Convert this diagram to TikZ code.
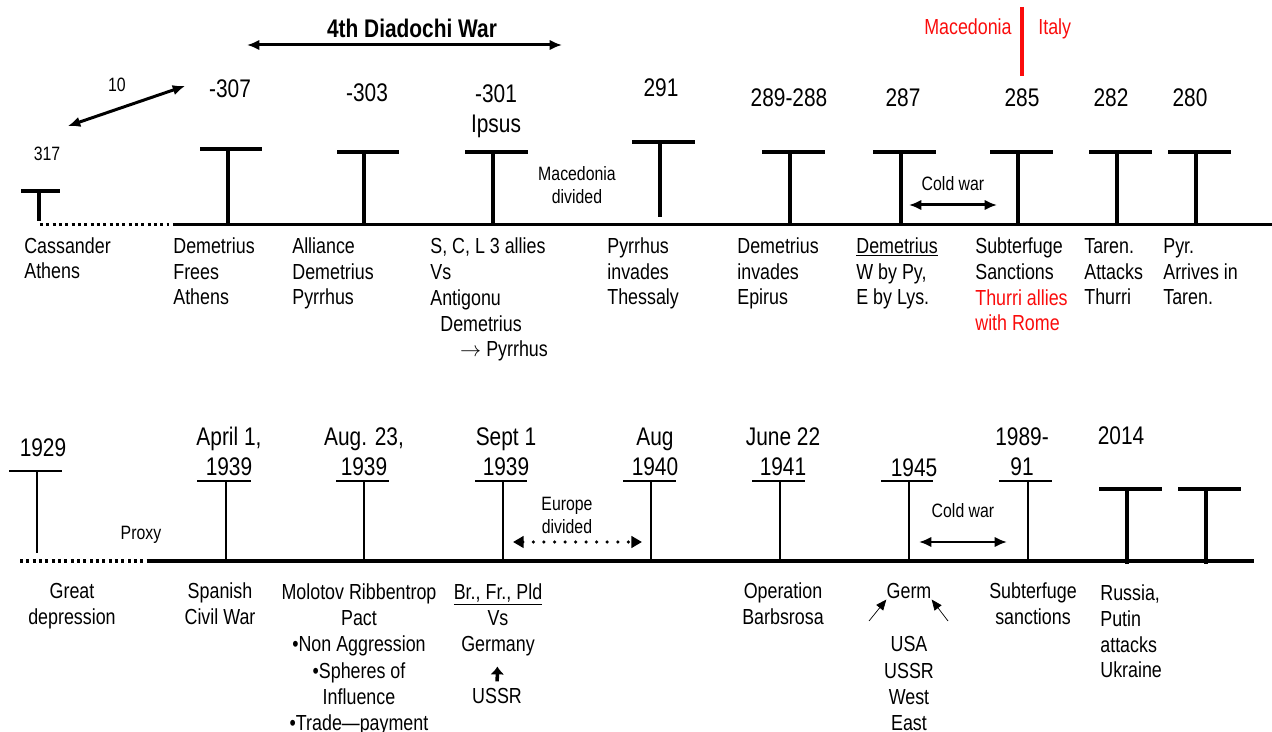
\documentclass[tikz,border=0pt]{standalone}
\usepackage{fontspec}
\setmainfont{Liberation Sans}[FakeStretch=0.82]
\usepackage{xcolor}
\usetikzlibrary{arrows.meta}
\definecolor{mapred}{RGB}{250,12,12}

\tikzset{
  timeline/.style={line width=2.2pt},
  dotline/.style={line width=2.2pt, dash pattern=on 1.7pt off 1.9pt},
  markT/.style={line width=2.2pt},
  markthin/.style={line width=0.85pt},
  yearlbl/.style={font=\fontsize{14.5}{17.6}\selectfont, inner sep=0pt, align=center, anchor=base},
  eventlbl/.style={font=\fontsize{12.4}{14.75}\selectfont, inner sep=0pt, align=left, anchor=base west},
  ceventlbl/.style={font=\fontsize{12.4}{15}\selectfont, inner sep=0pt, align=center, anchor=base},
  notelbl/.style={font=\fontsize{11}{13.5}\selectfont, inner sep=0pt, align=center, anchor=base},
  spanarrow/.style={{Latex[length=7pt,width=6pt]}-{Latex[length=7pt,width=6pt]}, line width=1.7pt},
  dotspan/.style={{Triangle[length=6pt,width=6.5pt]}-{Triangle[length=6pt,width=6.5pt]}, line width=2pt, line cap=round, dash pattern=on 0pt off 6pt},
  pointer/.style={-{Triangle[length=6pt,width=5pt]}, line width=0.4pt},
  uparr/.style={-{Latex[length=4.5pt,width=8pt]}, line width=2pt, shorten <=4pt, shorten >=5.5pt},
}

\begin{document}
\begin{tikzpicture}[x=0.02cm, y=-0.02cm]
  \useasboundingbox (0,0) rectangle (1272,732);

  % Ancient timeline (multi-line labels sit on their last baseline)
  \draw[dotline] (40,224.5) -- (173,224.5);
  \draw[timeline] (173,224.5) -- (1272,224.5);

  % Markers
  \draw[markT] (21,191) -- (60,191) (39,191) -- (39,221);
  \draw[markT] (200,149) -- (262,149) (228,149) -- (228,224.5);
  \draw[markT] (337,152) -- (399,152) (364,152) -- (364,224.5);
  \draw[markT] (465,152) -- (528,152) (493,152) -- (493,224.5);
  \draw[markT] (632,142) -- (695,142) (660,142) -- (660,217);
  \draw[markT] (762,152) -- (825,152) (790,152) -- (790,224.5);
  \draw[markT] (873,152) -- (936,152) (901,152) -- (901,224.5);
  \draw[markT] (990,152) -- (1053,152) (1018,152) -- (1018,224.5);
  \draw[markT] (1089,152) -- (1152,152) (1117,152) -- (1117,224.5);
  \draw[markT] (1168,152) -- (1231,152) (1196,152) -- (1196,224.5);

  % Years
  \node[notelbl] (y317) at (47,161) {317};
  \node[yearlbl] (y307) at (230,98) {-307};
  \node[yearlbl] (y303) at (367,102) {-303};
  \node[yearlbl] (y301) at (496,133) {-301\\Ipsus};
  \node[yearlbl] (y291) at (661,97) {291};
  \node[yearlbl] (y289) at (789,107) {289-288};
  \node[yearlbl] (y287) at (903,107) {287};
  \node[yearlbl] (y285) at (1022,107) {285};
  \node[yearlbl] (y282) at (1111,107) {282};
  \node[yearlbl] (y280) at (1190,107) {280};

  % Spans
  \node[yearlbl, font=\bfseries\fontsize{14.5}{17}\selectfont] (war4) at (412,38) {4th Diadochi War};
  \coordinate (war4L) at (247,45);
  \coordinate (war4R) at (562,45);
  \draw[spanarrow] (war4L) -- (war4R);

  \node[notelbl] (gap10) at (117,92) {10};
  \coordinate (gapL) at (68,126);
  \coordinate (gapR) at (185,86);
  \draw[spanarrow] (gapL) -- (gapR);

  \node[notelbl] (macdiv) at (577,204) {Macedonia\\divided};
  \node[notelbl] (cold1) at (953,191) {Cold war};
  \coordinate (cold1L) at (909,205);
  \coordinate (cold1R) at (997,205);
  \draw[spanarrow] (cold1L) -- (cold1R);

  % Macedonia | Italy
  \draw[line width=2.2pt, mapred] (1022,7) -- (1022,76);
  \node[eventlbl, anchor=base east, text=mapred] (macedonia) at (1012,35) {Macedonia};
  \node[eventlbl, text=mapred] (italy) at (1038,35) {Italy};

  % Events
  \node[eventlbl] (cassander) at (24,279) {Cassander\\Athens};
  \node[eventlbl] (frees) at (173,305) {Demetrius\\Frees\\Athens};
  \node[eventlbl] (alliance) at (292,305) {Alliance\\Demetrius\\Pyrrhus};
  \node[eventlbl] (ipsus) at (430,357) {S, C, L 3 allies\\Vs\\Antigonu\\\hspace*{5.7pt}Demetrius\\\hspace*{17pt}$\rightarrow$\ Pyrrhus};
  \node[eventlbl] (thessaly) at (607,305) {Pyrrhus\\invades\\Thessaly};
  \node[eventlbl] (epirus) at (737,305) {Demetrius\\invades\\Epirus};
  \node[eventlbl] (split) at (856,305) {\underline{Demetrius}\\W by Py,\\E by Lys.};
  \node[eventlbl] (subter1) at (975,331) {Subterfuge\\Sanctions\\\textcolor{mapred}{Thurri allies}\\\textcolor{mapred}{with Rome}};
  \node[eventlbl] (thurri) at (1084,305) {Taren.\\Attacks\\Thurri};
  \node[eventlbl] (arrives) at (1163,305) {Pyr.\\Arrives in\\Taren.};

  % Modern timeline
  \draw[dotline] (20,561) -- (147,561);
  \draw[timeline] (147,561) -- (1254,561);

  % Markers
  \draw[markthin] (9,471) -- (62,471) (37,471) -- (37,553);
  \draw[markthin] (197,481) -- (251,481) (226,481) -- (226,561);
  \draw[markthin] (336,481) -- (389,481) (364,481) -- (364,561);
  \draw[markthin] (475,481) -- (527,481) (503,481) -- (503,561);
  \draw[markthin] (623,481) -- (676,481) (651,481) -- (651,561);
  \draw[markthin] (752,481) -- (805,481) (780,481) -- (780,561);
  \draw[markthin] (881,481) -- (933,481) (909,481) -- (909,561);
  \draw[markthin] (999,481) -- (1052,481) (1028,481) -- (1028,561);
  \draw[markT] (1099,489) -- (1162,489) (1127,489) -- (1127,564);
  \draw[markT] (1178,489) -- (1241,489) (1206,489) -- (1206,564);

  % Dates
  \node[yearlbl] (d1929) at (43,457) {1929};
  \node[yearlbl] (d1939a) at (229,476) {April 1,\\1939};
  \node[yearlbl] (d1939b) at (364,476) {Aug. 23,\\1939};
  \node[yearlbl] (d1939c) at (506,476) {Sept 1\\1939};
  \node[yearlbl] (d1940) at (655,476) {Aug\\1940};
  \node[yearlbl] (d1941) at (783,476) {June 22\\1941};
  \node[yearlbl] (d1945) at (914,477) {1945};
  \node[yearlbl] (d1989) at (1022,476) {1989-\\91};
  \node[yearlbl] (d2014) at (1121,445) {2014};

  % Spans
  \node[notelbl] (proxy) at (141,540) {Proxy};
  \node[notelbl] (eudiv) at (567,534) {Europe\\divided};
  \coordinate (euL) at (513,542);
  \coordinate (euR) at (642,542);
  \draw[dotspan] (euL) -- (euR);
  \node[notelbl] (cold2) at (963,518) {Cold war};
  \coordinate (cold2L) at (919,542);
  \coordinate (cold2R) at (1007,542);
  \draw[spanarrow] (cold2L) -- (cold2R);

  % Events
  \node[ceventlbl] (depression) at (72,625) {Great\\depression};
  \node[ceventlbl] (spain) at (220,625) {Spanish\\Civil War};
  \node[ceventlbl] (pact) at (359,731) {Molotov Ribbentrop\\Pact\\•Non Aggression\\•Spheres of\\Influence\\•Trade—payment};
  \node[ceventlbl] (poland) at (498,652) {\underline{Br., Fr., Pld}\\Vs\\Germany};
  \node[ceventlbl] (ussr) at (497,704) {USSR};
  \draw[uparr] (ussr) -- (poland);
  \node[ceventlbl] (barbarossa) at (783,625) {Operation\\Barbsrosa};
  \node[ceventlbl] (germ) at (909,599) {Germ};
  \node[ceventlbl] (occupiers) at (909,731) {USA\\USSR\\West\\East};
  \coordinate (germL) at (869,621);
  \coordinate (germR) at (948,621);
  \draw[pointer] (germL) -- (germ.south west);
  \draw[pointer] (germR) -- (germ.south east);
  \node[ceventlbl] (subter2) at (1033,625) {Subterfuge\\sanctions};
  \node[eventlbl] (ukraine) at (1100,678) {Russia,\\Putin\\attacks\\Ukraine};
\end{tikzpicture}
\end{document}
